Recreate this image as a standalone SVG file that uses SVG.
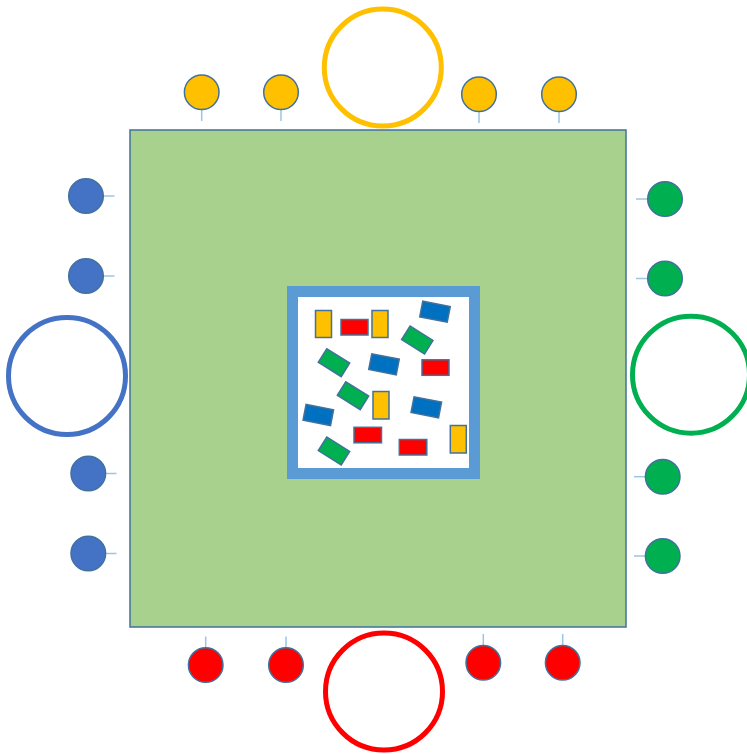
<svg xmlns="http://www.w3.org/2000/svg" width="747" height="754" viewBox="0 0 747 754">
<style>
.board{fill:#A9D18E;stroke:#41719C;stroke-width:1.5}
.frame{fill:#FFFFFF;stroke:#5B9BD5;stroke-width:11}
.ring{fill:none;stroke-width:5}
.seat{stroke:#41719C;stroke-width:1.5}
.stick{stroke:#9DC3E6;stroke-width:1.5;fill:none}
.tile{stroke:#41719C;stroke-width:1.5}
.y{fill:#FFC000}.b{fill:#4472C4}.g{fill:#00B050}.r{fill:#FF0000}.tb{fill:#0070C0}
</style>
<rect width="747" height="754" fill="#FFFFFF"/>
<g id="board"><rect class="board" x="130" y="130" width="496" height="497"/></g>
<g id="frame"><rect class="frame" x="292.5" y="291.5" width="182" height="182"/></g>
<g id="tiles">
<rect class="tile y" x="315.5" y="310.5" width="16" height="27"/>
<rect class="tile r" x="341" y="319.5" width="27" height="15.5"/>
<rect class="tile y" x="372" y="310.5" width="16" height="27"/>
<rect class="tile tb" x="-14" y="-8" width="28" height="16" transform="translate(435,311.7) rotate(11)"/>
<rect class="tile g" x="-13.5" y="-8" width="27" height="16" transform="translate(417.3,340) rotate(32)"/>
<rect class="tile g" x="-13.5" y="-8" width="27" height="16" transform="translate(334,362.7) rotate(32)"/>
<rect class="tile tb" x="-14" y="-8" width="28" height="16" transform="translate(384,364.3) rotate(11)"/>
<rect class="tile r" x="422" y="359.8" width="27" height="15.5"/>
<rect class="tile g" x="-13.5" y="-8" width="27" height="16" transform="translate(353,395.7) rotate(32)"/>
<rect class="tile y" x="373" y="391.5" width="16" height="27.5"/>
<rect class="tile tb" x="-14" y="-8" width="28" height="16" transform="translate(426.3,407.3) rotate(11)"/>
<rect class="tile tb" x="-14" y="-8" width="28" height="16" transform="translate(318.3,415) rotate(11)"/>
<rect class="tile r" x="354" y="427.3" width="27.5" height="15.5"/>
<rect class="tile r" x="399.3" y="439.5" width="27.5" height="15.5"/>
<rect class="tile y" x="450.3" y="425.5" width="16" height="27.5"/>
<rect class="tile g" x="-13.5" y="-8" width="27" height="16" transform="translate(334,451) rotate(32)"/>
</g>
<g id="connectors">
<line class="stick" x1="201.7" y1="110" x2="201.7" y2="121"/>
<line class="stick" x1="281" y1="110" x2="281" y2="121"/>
<line class="stick" x1="479" y1="112" x2="479" y2="123"/>
<line class="stick" x1="559" y1="112" x2="559" y2="123"/>
<line class="stick" x1="103" y1="196" x2="114.5" y2="196"/>
<line class="stick" x1="103" y1="276" x2="114.5" y2="276"/>
<line class="stick" x1="105" y1="473.5" x2="116.5" y2="473.5"/>
<line class="stick" x1="105" y1="553.5" x2="116.5" y2="553.5"/>
<line class="stick" x1="636" y1="199" x2="647.5" y2="199"/>
<line class="stick" x1="636" y1="278.5" x2="647.5" y2="278.5"/>
<line class="stick" x1="634" y1="476.7" x2="645.5" y2="476.7"/>
<line class="stick" x1="634" y1="556" x2="645.5" y2="556"/>
<line class="stick" x1="205.7" y1="636.5" x2="205.7" y2="647.5"/>
<line class="stick" x1="286" y1="636.5" x2="286" y2="647.5"/>
<line class="stick" x1="483.3" y1="634" x2="483.3" y2="645"/>
<line class="stick" x1="562.7" y1="634" x2="562.7" y2="645"/>
</g>
<g id="top-big"><circle class="ring" cx="382.8" cy="67.5" r="58.5" stroke="#FFC000"/></g>
<g id="top-1"><circle class="seat y" cx="201.7" cy="92.3" r="17.3"/></g>
<g id="top-2"><circle class="seat y" cx="281" cy="92.3" r="17.3"/></g>
<g id="top-3"><circle class="seat y" cx="479" cy="94.3" r="17.3"/></g>
<g id="top-4"><circle class="seat y" cx="559" cy="94.3" r="17.3"/></g>
<g id="left-big"><circle class="ring" cx="67" cy="376" r="58.5" stroke="#4472C4"/></g>
<g id="left-1"><circle class="seat b" cx="86" cy="196" r="17.3" stroke="#5B9BD5"/></g>
<g id="left-2"><circle class="seat b" cx="86" cy="276" r="17.3" stroke="#5B9BD5"/></g>
<g id="left-3"><circle class="seat b" cx="88.3" cy="473.5" r="17.3" stroke="#5B9BD5"/></g>
<g id="left-4"><circle class="seat b" cx="88.3" cy="553.5" r="17.3" stroke="#5B9BD5"/></g>
<g id="right-big"><circle class="ring" cx="691" cy="374.7" r="58.5" stroke="#00B050"/></g>
<g id="right-1"><circle class="seat g" cx="665" cy="199" r="17.3"/></g>
<g id="right-2"><circle class="seat g" cx="665" cy="278.5" r="17.3"/></g>
<g id="right-3"><circle class="seat g" cx="662.7" cy="476.7" r="17.3"/></g>
<g id="right-4"><circle class="seat g" cx="662.7" cy="556" r="17.3"/></g>
<g id="bottom-big"><circle class="ring" cx="384" cy="691.5" r="58.5" stroke="#FF0000"/></g>
<g id="bottom-1"><circle class="seat r" cx="205.7" cy="665" r="17.3"/></g>
<g id="bottom-2"><circle class="seat r" cx="286" cy="665" r="17.3"/></g>
<g id="bottom-3"><circle class="seat r" cx="483.3" cy="662.7" r="17.3"/></g>
<g id="bottom-4"><circle class="seat r" cx="562.7" cy="662.7" r="17.3"/></g>
</svg>
